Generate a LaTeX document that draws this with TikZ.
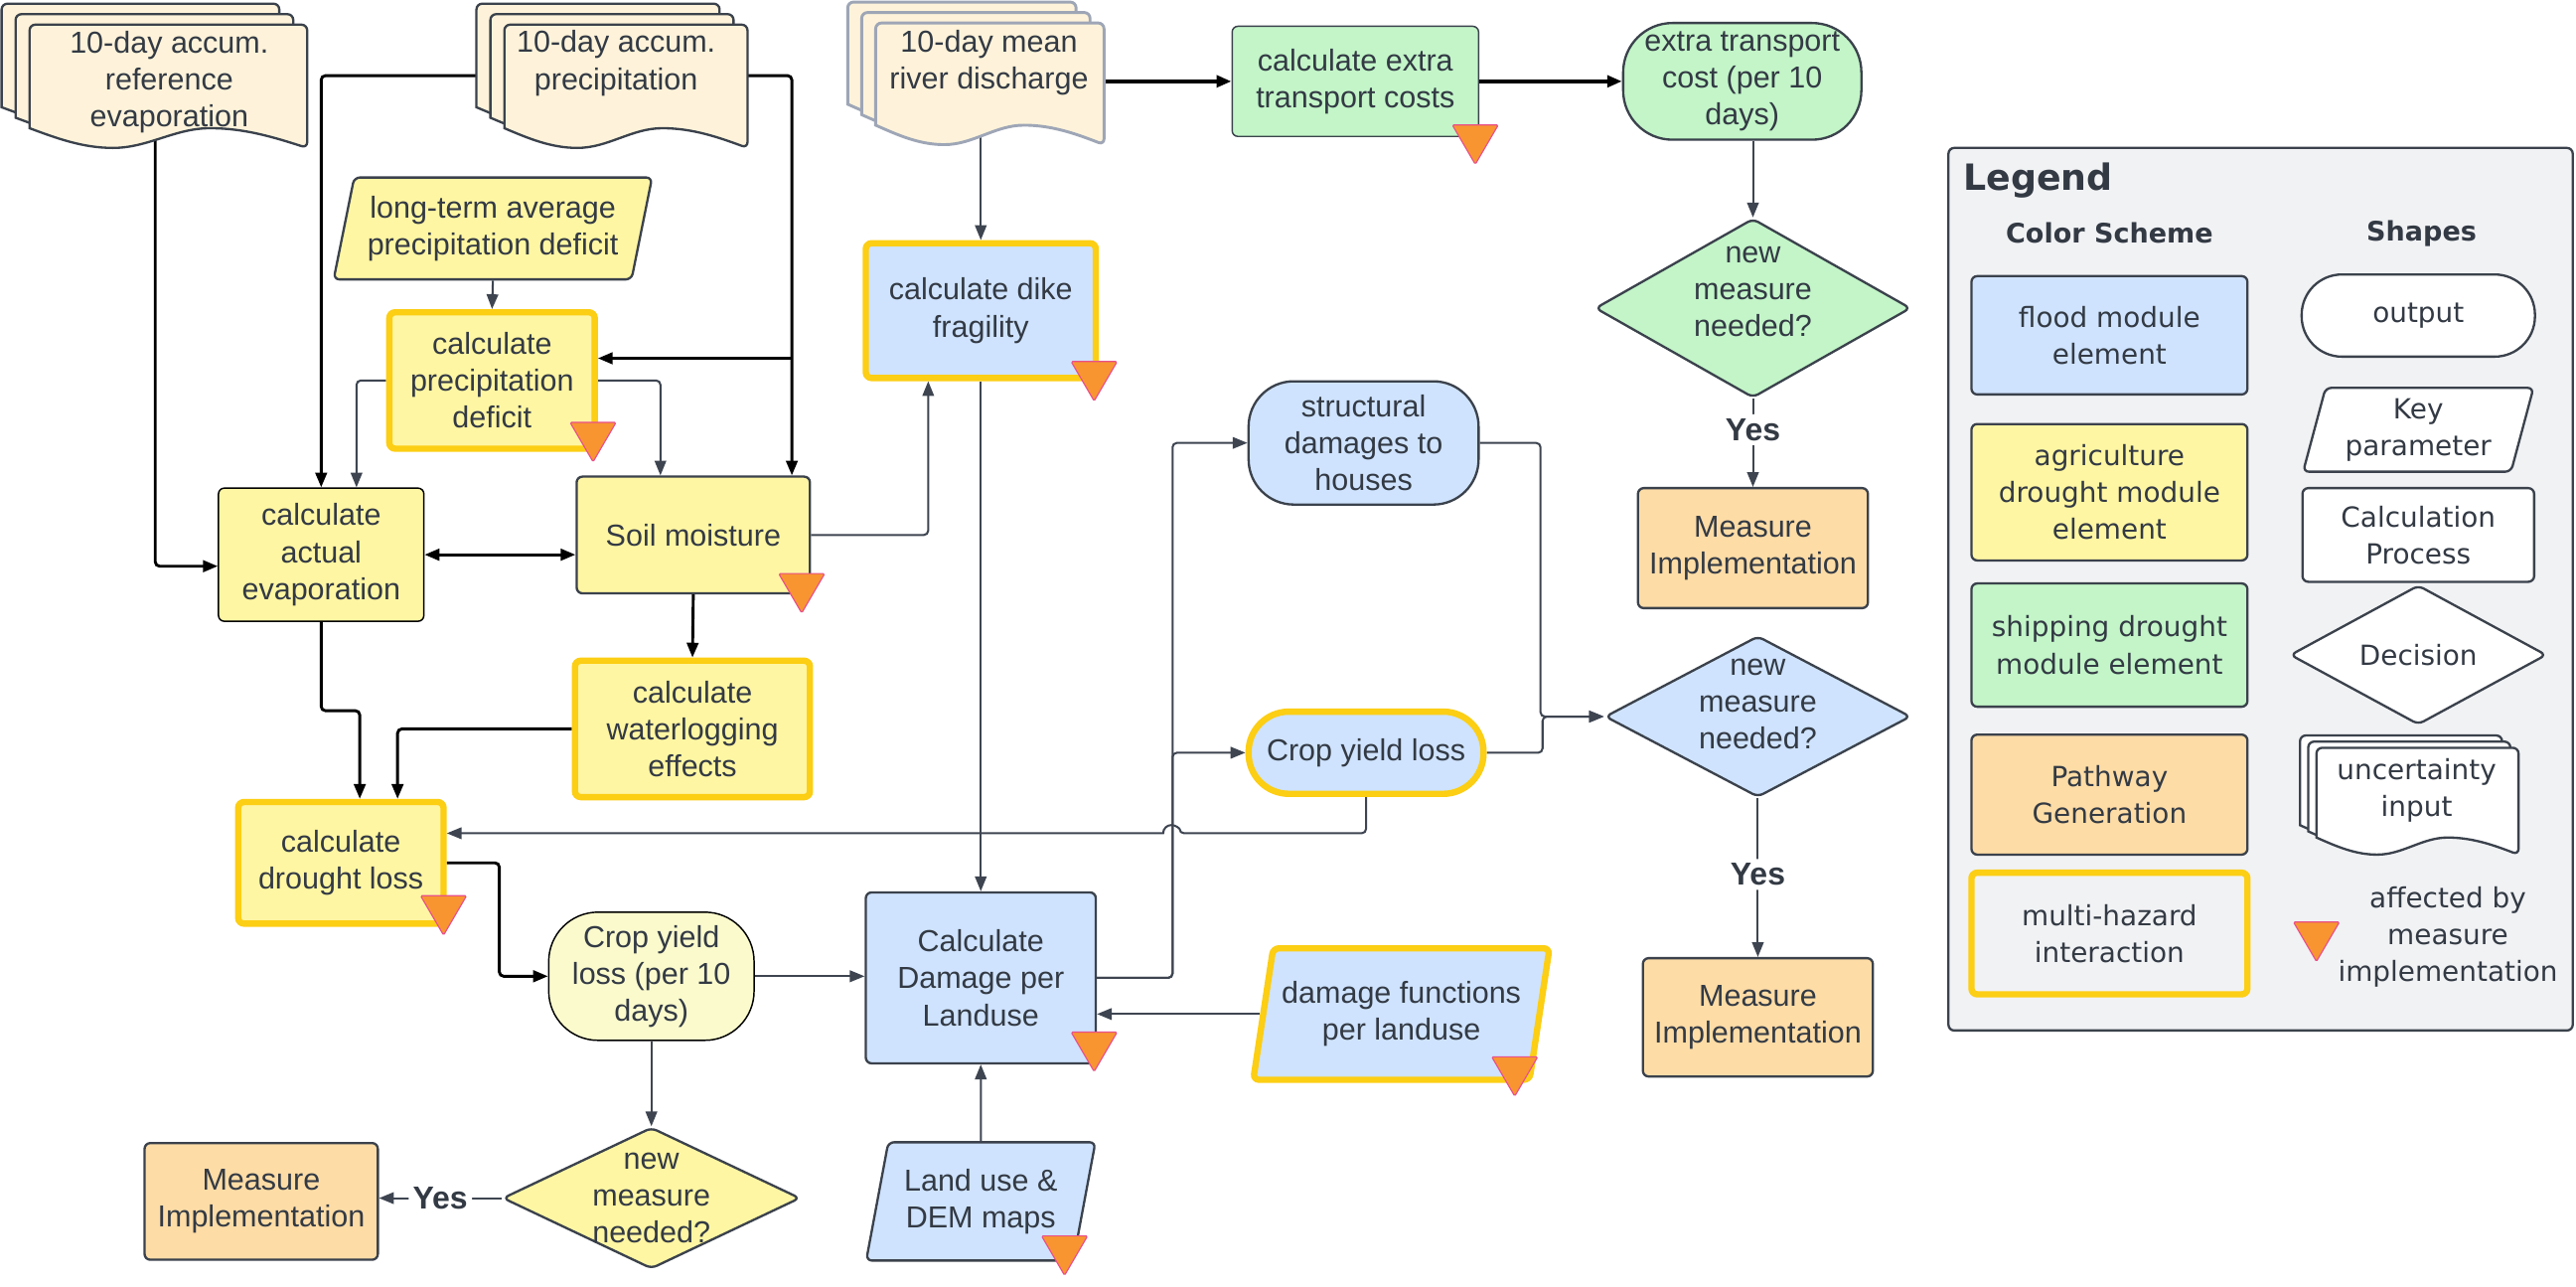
\documentclass[tikz,border=0pt]{standalone}
\usepackage{fontspec}
\setmainfont{Liberation Sans}
\newfontfamily\legfont{DejaVu Sans}
\usetikzlibrary{shapes.geometric,arrows.meta,backgrounds}

\definecolor{agriyellow}{HTML}{FFF6A3}
\definecolor{croplight}{HTML}{FAFACD}
\definecolor{floodblue}{HTML}{CFE3FE}
\definecolor{shipgreen}{HTML}{C3F5C8}
\definecolor{pathorange}{HTML}{FDDCA6}
\definecolor{doccream}{HTML}{FEF3DA}
\definecolor{docedge}{HTML}{9EA6B6}
\definecolor{legendgray}{HTML}{F1F2F4}
\definecolor{hazardgold}{HTML}{FCCE14}
\definecolor{bordergray}{HTML}{3B424C}
\definecolor{linegray}{HTML}{3E4551}
\definecolor{txtgray}{HTML}{333A44}
\definecolor{triorange}{HTML}{F89530}
\definecolor{tripink}{HTML}{E8508A}

\tikzset{
	blk/.style={draw=black, line width=1pt, rounded corners=1.5pt, ->},
	gry/.style={draw=linegray, line width=0.7pt, rounded corners=1.5pt, ->},
	proc/.style={draw=bordergray, line width=0.8pt, rounded corners=2pt, align=center, inner sep=2pt},
	outp/.style={proc, rounded corners=#1},
	outp/.default=6mm,
	param/.style={trapezium, trapezium left angle=75, trapezium right angle=105, trapezium stretches=true, draw=bordergray, line width=0.8pt, rounded corners=2pt, align=center, inner sep=1pt},
	deci/.style={diamond, draw=bordergray, line width=0.8pt, rounded corners=2pt, inner sep=0pt},
	hazard/.style={draw=hazardgold, line width=2.2pt},
	yes/.style={fill=white, inner sep=1.5pt, font=\bfseries\fontsize{11}{13}\selectfont},
	tri/.style={fill=triorange, draw=tripink, line width=0.4pt, rounded corners=0.5pt},
	docsheet/.style={fill=doccream, draw=bordergray, line width=0.8pt},
	docsheetb/.style={docsheet, draw=docedge, line width=1pt},
	docwhite/.style={docsheet, fill=white},
	legtext/.style={font=\legfont\fontsize{9.6}{12.8}\selectfont},
	lhead/.style={font=\legfont\bfseries\fontsize{9.3}{11}\selectfont}
}

% stack of uncertain input sheets: [style]{name}{left}{top}{width}{height}{offset}
\newcommand{\docstack}[7][docsheet]{%
	\foreach \sh in {2,1,0}{%
		\pgfmathsetmacro{\xl}{#3-#7*\sh}%
		\pgfmathsetmacro{\yt}{#4-0.75*#7*\sh}%
		\pgfmathsetmacro{\xr}{\xl+#5}%
		\pgfmathsetmacro{\yb}{\yt+#6}%
		\pgfmathsetmacro{\ya}{\yb-0.16*#6}%
		\pgfmathsetmacro{\ym}{\yb-0.08*#6}%
		\pgfmathsetmacro{\xa}{\xl+0.3*#5}%
		\pgfmathsetmacro{\xm}{\xl+0.475*#5}%
		\pgfmathsetmacro{\xc}{\xl+0.65*#5}%
		\draw[#1] (\xl,\ya) [rounded corners=2pt] -- (\xl,\yt) -- (\xr,\yt) -- (\xr,\yb) [sharp corners] sin (\xc,\ya) cos (\xm,\ym) sin (\xa,\yb) cos (\xl,\ya) -- cycle;
	}%
	\node[minimum width=#5*0.2mm, minimum height=#6*0.2mm, inner sep=0pt] (#2) at (#3+#5/2, #4+#6/2) {};%
}

\begin{document}
\begin{tikzpicture}[x=0.2mm, y=-0.2mm, >={Triangle[length=1.8mm,width=1.4mm]}, font=\fontsize{10.5}{12.8}\selectfont, nodes={text=txtgray}]
	\useasboundingbox (0,0) rectangle (1568,783);
	% inputs
	\docstack{evap}{18}{15}{169}{75}{8.5}
	\docstack{prec}{307}{15}{148}{75}{8.5}
	\docstack[docsheetb]{disc}{533}{14}{139}{74}{8.5}
	\node[align=center] (evapt) at (103,50) {10-day accum.\\reference\\evaporation};
	\node[align=center] (prect) at (375,38.5) {10-day accum.\\precipitation};
	\node[align=center] (disct) at (602,38) {10-day mean\\river discharge};
	% agriculture drought
	\node[fill=agriyellow] (ltpd) at (300,139) [param, minimum width=38.8mm, minimum height=12.4mm] {long-term average\\precipitation deficit};
	\node[fill=agriyellow] (pdef) at (299.5,231.5) [proc, hazard, minimum width=25mm, minimum height=16.6mm] {calculate\\precipitation\\deficit};
	\node[fill=agriyellow] (aevap) at (195.5,337.5) [proc, draw=black, line width=0.5pt, minimum width=25mm, minimum height=16.2mm] {calculate\\actual\\evaporation};
	\node[fill=agriyellow] (soil) at (422,325.5) [proc, minimum width=28.4mm, minimum height=14.2mm] {Soil moisture};
	\node[fill=agriyellow] (wlog) at (421.5,443.5) [proc, hazard, minimum width=28.6mm, minimum height=16.6mm] {calculate\\waterlogging\\effects};
	\node[fill=agriyellow] (dloss) at (207.5,525) [proc, hazard, minimum width=25mm, minimum height=14.8mm] {calculate\\drought loss};
	\node[fill=croplight] (cyl10) at (396.5,594) [outp, draw=black, line width=0.5pt, minimum width=25mm, minimum height=15.6mm] {Crop yield\\loss (per 10\\days)};
	\node[fill=agriyellow] (ydec) at (396.5,729) [deci, minimum width=36.2mm, minimum height=17.2mm, label={[align=center]center:new\\measure\\needed?}] {};
	\node[fill=pathorange] (mimp3) at (159,731) [proc, minimum width=28.4mm, minimum height=14.2mm] {Measure\\Implementation};
	% flood
	\node[fill=floodblue] (dike) at (597,189) [proc, hazard, minimum width=28mm, minimum height=16.4mm] {calculate dike\\fragility};
	\node[fill=floodblue] (cdam) at (597,595) [proc, minimum width=28mm, minimum height=20.8mm] {Calculate\\Damage per\\Landuse};
	\node[fill=floodblue] (luse) at (597,731) [param, minimum width=28mm, minimum height=14.4mm] {Land use \&\\DEM maps};
	\node[fill=floodblue] (dfun) at (853,617) [param, hazard, minimum width=36.4mm, minimum height=16mm] {damage functions\\per landuse};
	\node[fill=floodblue] (sdam) at (830,269.5) [outp=5.5mm, minimum width=28mm, minimum height=15mm] {structural\\damages to\\houses};
	\node[fill=floodblue] (cyfl) at (831.5,458) [outp=4.9mm, hazard, minimum width=28.6mm, minimum height=10mm] {Crop yield loss};
	\node[fill=floodblue] (bdec) at (1070,436) [deci, minimum width=37.2mm, minimum height=19.6mm, label={[align=center, yshift=1.5mm]center:new\\measure\\needed?}] {};
	\node[fill=pathorange] (mimp2) at (1070,619) [proc, minimum width=28mm, minimum height=14.4mm] {Measure\\Implementation};
	% shipping drought
	\node[fill=shipgreen] (trans) at (825,49.5) [proc, line width=0.5pt, minimum width=30mm, minimum height=13.4mm] {calculate extra\\transport costs};
	\node[fill=shipgreen] (tcost) at (1060.5,49.5) [outp, minimum width=29mm, minimum height=14.2mm] {extra transport\\cost (per 10\\days)};
	\node[fill=shipgreen] (gdec) at (1067,187.5) [deci, minimum width=38.4mm, minimum height=21.8mm, label={[align=center, yshift=2mm]center:new\\measure\\needed?}] {};
	\node[fill=pathorange] (mimp1) at (1067,333.5) [proc, minimum width=28mm, minimum height=14.6mm] {Measure\\Implementation};
	% legend
	\node[fill=legendgray] (legend) at (1376,358.5) [proc, minimum width=76mm, minimum height=107.4mm] {};
	\node[anchor=west, font=\legfont\bfseries\fontsize{12.5}{14}\selectfont] (ltitle) at (1189,110) {Legend};
	\node[lhead] (lcolor) at (1284,142) {Color Scheme};
	\node[lhead] (lshape) at (1474,142) {Shapes};
		\node[fill=floodblue] (lflood) at (1284,204) [proc, legtext, minimum width=33.6mm, minimum height=14.4mm] {flood module\\element};
		\node[fill=agriyellow] (lagri) at (1284,299.5) [proc, legtext, minimum width=33.6mm, minimum height=16.6mm] {agriculture\\drought module\\element};
		\node[fill=shipgreen] (lship) at (1284,392.5) [proc, legtext, minimum width=33.6mm, minimum height=15mm] {shipping drought\\module element};
		\node[fill=pathorange] (lpath) at (1284,483.5) [proc, legtext, minimum width=33.6mm, minimum height=14.6mm] {Pathway\\Generation};
		\node[fill=legendgray] (lmulti) at (1284,568) [proc, hazard, legtext, minimum width=33.6mm, minimum height=14.8mm] {multi-hazard\\interaction};
		\node[fill=white] (lout) at (1472,192) [outp=4.9mm, legtext, minimum width=28.4mm, minimum height=10mm] {output};
		\node[fill=white] (lkey) at (1472,261.5) [param, legtext, minimum width=28.2mm, minimum height=10.2mm] {Key\\parameter};
		\node[fill=white] (lcalc) at (1472,325.5) [proc, legtext, minimum width=28.2mm, minimum height=11.4mm] {Calculation\\Process};
		\node[fill=white] (ldec) at (1472,398.5) [deci, legtext, minimum width=31.2mm, minimum height=15.4mm] {Decision};
		\docstack[docwhite]{lunc}{1410}{455}{123}{65}{5}
		\node[legtext, align=center] (lunct) at (1471,481) {uncertainty\\input};
		\node[legtext, align=center] (ltri) at (1490,570) {affected by\\measure\\implementation};
	% affected by measure implementation
	\foreach \x/\y in {361/257, 488/349, 270/545, 898/76, 666/220, 666/628, 922/643, 648/752, 1410/561}
		\draw[tri] (\x-14,\y) -- (\x+14,\y) -- (\x,\y+24) -- cycle;
	\coordinate (pbr) at (482,218);
	\begin{scope}[on background layer]
		\fill[white] (0,0) rectangle (1568,783);
		\draw[blk] ([xshift=-1.6mm]evap.center) |- ([yshift=-1.4mm]aevap.west);
		\draw[blk] ([yshift=1.3mm]prec.center) -| (aevap.north);
		\draw[blk] ([yshift=1.3mm]prec.center) -| ([xshift=12mm]soil.north);
		\draw[blk] (pbr) -- (pbr -| pdef.east);
		\draw[gry] (ltpd.south) -- (pdef.north);
		\draw[gry] (pdef.west) -| ([xshift=4.3mm]aevap.north);
		\draw[gry] (pdef.east) -| ([xshift=-4mm]soil.north);
		\draw[blk, <->] (aevap.east) -- (aevap.east -| soil.west);
		\draw[blk] (soil.south) -- (wlog.north);
		\draw[gry] (soil.east) -| ([xshift=-6.4mm]dike.south);
		\draw[blk] (wlog.west) -| ([xshift=6.9mm]dloss.north);
		\draw[blk] (aevap.south) -- ++(0,54) -| ([xshift=2.3mm]dloss.north);
		\draw[blk] (dloss.east) -- ++(32,0) |- (cyl10.west);
		\draw[gry] (cyl10.east) -- (cyl10.east -| cdam.west);
		\draw[gry] (cyl10.south) -- (ydec.north);
		\draw[gry] (ydec.west) -- node[yes] (yes3) {Yes} (ydec.west -| mimp3.east);
		\draw[blk, line width=1.3pt] (disc.center |- trans.west) -- (trans.west);
		\draw[blk, line width=1.3pt] (trans.east) -- (tcost.west);
		\draw[gry] (tcost.south -| gdec.north) -- (gdec.north);
		\draw[gry] (gdec.south) -- node[yes, pos=0.35] (yes1) {Yes} (mimp1.north);
		\draw[gry] (disc.center -| dike.north) -- (dike.north);
		\draw[gry] (dike.south) -- (cdam.north);
		\draw[gry] (cdam.east) -- ++(46,0) |- (sdam.west);
		\draw[gry] (cdam.east) -- ++(46,0) |- (cyfl.west);
		\draw[gry] (sdam.east) -- ++(37,0) |- (bdec.west);
		\draw[gry] (cyfl.east) -- ++(34,0) |- (bdec.west);
		\draw[gry] (cyfl.south) |- (718,507) [sharp corners] arc[start angle=0, end angle=180, radius=1mm] -- ([yshift=3.6mm]dloss.east);
		\draw[gry] (bdec.south) -- node[yes, pos=0.48] (yes2) {Yes} (mimp2.north);
		\draw[gry] (dfun.west) -- (dfun.west -| cdam.east);
		\draw[gry] (luse.north) -- (cdam.south);
	\end{scope}
\end{tikzpicture}
\end{document}
